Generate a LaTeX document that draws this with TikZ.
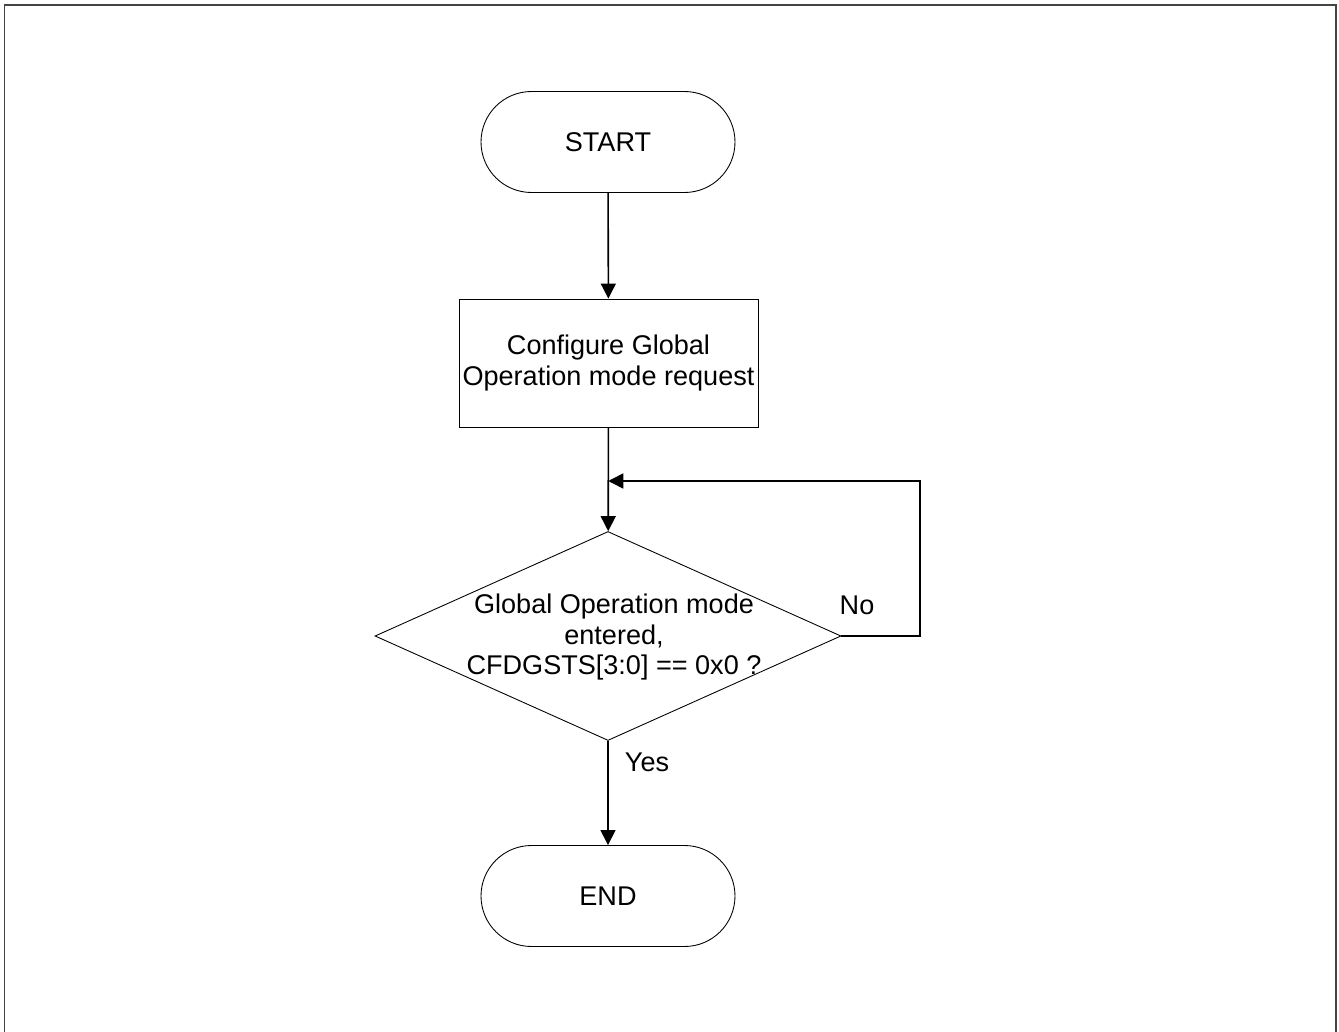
\documentclass[tikz,border=0pt]{standalone}
\usepackage{fontspec}
\setmainfont{Liberation Sans}
\usetikzlibrary{positioning,shapes.misc,shapes.geometric,arrows.meta,calc}
\definecolor{framegray}{HTML}{444444}

\tikzset{
    terminal/.style={draw, rounded rectangle, line width=0.5pt, minimum width=5.08cm, minimum height=2.02cm, inner sep=0pt},
    process/.style={draw, rectangle, line width=0.5pt, minimum width=5.98cm, minimum height=2.56cm, align=center, inner sep=0pt},
    decision/.style={draw, diamond, line width=0.5pt, minimum width=9.32cm, minimum height=4.18cm, inner sep=0pt},
    flow/.style={line width=0.9pt, -{Triangle[length=3mm,width=3mm]}},
    txt/.style={font=\fontsize{15.4}{17.4}\selectfont}
}

\begin{document}
\begin{tikzpicture}[txt]
\useasboundingbox (0,0) rectangle (26.78,-20.64);
% Frame
\draw[framegray, line width=1pt] (0.09,-20.8) -- (0.09,-0.1) -- (26.72,-0.1) -- (26.72,-20.8);

% Flow nodes
\node[terminal] (start) at (12.16,-2.84) {START};
\node[process] (cfg) at (12.17,-7.26) {Configure Global\\Operation mode request};
\node[decision] (check) at (12.16,-12.72) {};
\node[align=center] (checktxt) at (12.28,-12.74) {Global Operation mode\\entered,\\CFDGSTS[3:0] == 0x0 ?};
\node[terminal] (end) at (12.16,-17.92) {END};

% Connectors
\coordinate (merge) at ($(cfg.south)!0.5!(check.north)$);
\coordinate (loopright) at (18.4,-9.62);
\draw[flow] (start) -- (cfg);
\draw[flow] (cfg) -- (check);
\draw[flow] (check.east) -| (loopright) -- (merge |- loopright);
\draw[flow] (check) -- (end);

% Branch labels
\node (nolbl) at (17.14,-12.1) {No};
\node (yeslbl) at (12.94,-15.24) {Yes};
\end{tikzpicture}
\end{document}
